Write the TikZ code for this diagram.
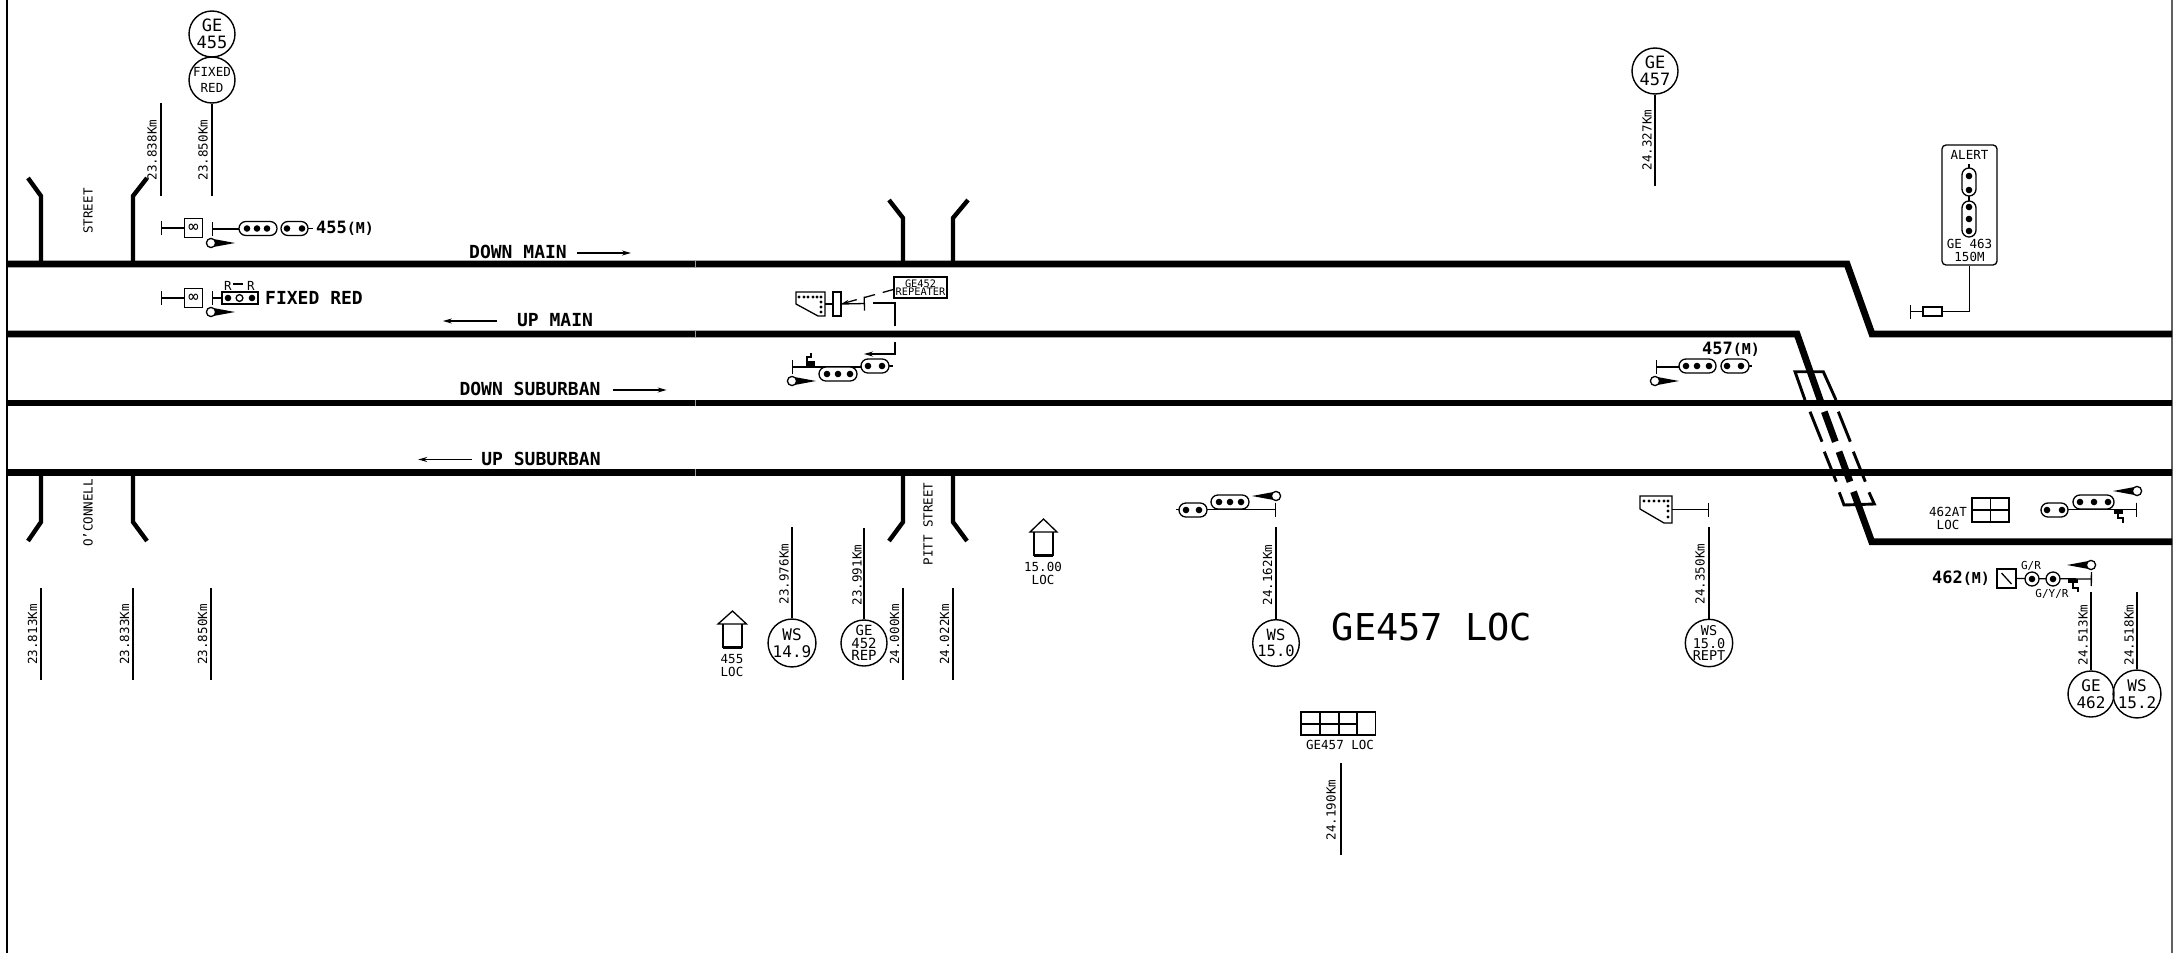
\documentclass[tikz,border=0pt]{standalone}
\usepackage{fontspec}
\setmainfont{DejaVu Sans Mono}
\usetikzlibrary{arrows.meta}
\newcommand{\cad}[1]{\fontsize{#1}{13}\selectfont}
\newcommand{\cads}[2]{\fontsize{#1}{#2}\selectfont}
\newcommand{\mlabel}[1]{{\bfseries\cad{17}#1\cad{15}(M)}}
% signal head: centre x, centre y, direction of the pointer
\newcommand{\sighead}[3]{
	\fill (#1+3.5*#3,#2-3.8) -- (#1+24*#3,#2) -- (#1+3.5*#3,#2+3.8) -- cycle;
	\draw[ln,fill=white] (#1,#2) circle (4.6);
}
% capsule of lamps: left, right, centre y, list of lamp positions
\newcommand{\lamps}[4]{
	\draw[ln,fill=white,rounded corners=6.9] (#1,#3-7) rectangle (#2,#3+7);
	\foreach \x in {#4} \fill (\x,#3) circle (3.3);
}
\tikzset{
	trk/.style={line width=6.8},
	road/.style={line width=4.4},
	xov/.style={line width=2.9},
	ln/.style={line width=1.3},
	kmline/.style={line width=1.6},
	km/.style={rotate=90,inner sep=0,font=\cad{12.5}},
	lbl/.style={inner sep=0,font=\cad{12.5},align=center},
	trklbl/.style={inner sep=0,font=\bfseries\cad{18}},
	place/.style={draw,circle,line width=1.4,minimum size=46,inner sep=0,align=center},
	arr/.style={ln,-{Stealth[length=9,width=5]}},
	tickst/.style={ln,{Bar[width=14]}-},
}
\begin{document}
\begin{tikzpicture}[x=1pt,y=-1pt]
	\useasboundingbox (0,0) rectangle (2179,953);
	\fill[white] (0,0) rectangle (2179,953);
	\draw[line width=2.6] (7,0) -- (7,953);
	\draw[line width=2,black!62] (2172,0) -- (2172,953);

	% tracks
	\draw[trk] (7,264) -- (1847,264) -- (1872,334) -- (2172,334);
	\draw[trk] (7,334) -- (1797,334) -- (1821.3,403.3);
	\draw[trk] (7,403) -- (2172,403);
	\draw[trk] (7,472.5) -- (2172,472.5);
	\draw[trk] (1853.5,491.7) -- (1871.7,541.7) -- (2172,541.7);
	\foreach \y in {264,334,403,472.5}
		\draw[line width=0.6,black!40] (695,\y-3.4) -- (695,\y+3.4);

	% crossover
	\foreach \a/\b in {1824.3/411.7,1839/451.7}
		\draw[trk] (\a,\b) -- ++(11,30);
	\foreach \a/\b in {1810/411.7,1838.3/411.7,1824.3/451.7,1853.3/451.7}
		\draw[xov] (\a,\b) -- ++(12,30);
	\draw[xov] (1805,400) -- (1795,371.7) -- (1823.3,371.7) -- (1836,400);
	\draw[xov] (1839.3,492.3) -- (1844,505) -- (1874.3,504) -- (1869,492.3);

	% roads
	\draw[road] (41,264) -- (41,196) -- (28,178);
	\draw[road] (133,264) -- (133,196) -- (147,178);
	\draw[road] (41,472) -- (41,522) -- (28,541);
	\draw[road] (133,472) -- (133,522) -- (147,541);
	\draw[road] (903,264) -- (903,218) -- (889,200);
	\draw[road] (953,264) -- (953,218) -- (968,200);
	\draw[road] (903,472) -- (903,522) -- (889,541);
	\draw[road] (953,472) -- (953,522) -- (967,541);
	\node[km] (street) at (88,211) {STREET};
	\node[km] (oconnell) at (88,513) {O'CONNELL};
	\node[km] (pitt) at (928,524) {PITT STREET};

	% track names
	\node[trklbl] (dm) at (518,252) {DOWN MAIN};
	\node[trklbl] (um) at (555,320) {UP MAIN};
	\node[trklbl] (ds) at (530,389) {DOWN SUBURBAN};
	\node[trklbl] (us) at (541,458.5) {UP SUBURBAN};
	\draw[arr] (dm.east) ++(10,1) -- ++(54,0);
	\draw[arr] (um.west) ++(-20,1) -- ++(-54,0);
	\draw[arr] (ds.east) ++(12,1) -- ++(54,0);
	\draw[arr] (us.west) ++(-9,1) -- ++(-54,0);

	% places
	\node[place,font=\cads{17}{16.5}] (ge455) at (212,34) {GE\\455};
	\node[place,font=\cads{12.5}{16.5}] (fixed) at (212,80) {FIXED\\RED};
	\node[place,font=\cads{17}{16.5}] (ge457) at (1655,71) {GE\\457};
	\node[place,font=\cads{16}{16.5}] (ws149) at (792,643) {WS\\14.9};
	\node[place,font=\cads{14}{12.3}] (rep452) at (864,643) {GE\\452\\REP};
	\node[place,font=\cads{15.5}{16.5}] (ws150) at (1276,643) {WS\\15.0};
	\node[place,font=\cads{13.5}{12.3}] (rept) at (1709,643) {WS\\15.0\\REPT};
	\node[place,font=\cads{16}{16.5}] (ge462) at (2091,694) {GE\\462};
	\node[place,font=\cads{16}{16.5}] (ws152) at (2137,694) {WS\\15.2};

	% chainages
	\draw[line width=2.4] (161,103) -- (161,196);
	\node[km] at (152,150) {23.838Km};
	\draw[kmline] (fixed.south) -- (212,196);
	\node[km] at (203,150) {23.850Km};
	\draw[kmline] (ge457.south) -- (1655,186);
	\node[km] at (1647,140) {24.327Km};
	\foreach \x/\t in {41/23.813,133/23.833,211/23.850,903/24.000,953/24.022}{
		\draw[kmline] (\x,588) -- (\x,680);
		\node[km] at (\x-8.5,634.5) {\t Km};
	}
	\draw[kmline] (ws149.north) -- (792,527);
	\node[km] at (784,574) {23.976Km};
	\draw[kmline] (rep452.north) -- (864,528);
	\node[km] at (857,575) {23.991Km};
	\draw[kmline] (ws150.north) -- (1276,527);
	\node[km] at (1267.5,575) {24.162Km};
	\draw[kmline] (rept.north) -- (1709,527);
	\node[km] at (1700,574) {24.350Km};
	\draw[kmline] (1341,763) -- (1341,855);
	\node[km] at (1331,810) {24.190Km};
	\draw[kmline] (ge462.north) -- (2091,592);
	\node[km] at (2083,635) {24.513Km};
	\draw[kmline] (ws152.north) -- (2137,592);
	\node[km] at (2129,635) {24.518Km};

	% signal 455
	\node[draw,ln,minimum size=18.5,inner sep=0,font=\cad{17}] (sq455) at (193.5,228) {∞};
	\draw[tickst] (161,228) -- (sq455.west);
	\draw[tickst] (212,229) -- (239,229);
	\lamps{239}{277}{228.5}{247,257,267}
	\lamps{281}{308}{228.5}{287,302}
	\draw[ln] (308,228.5) -- (313,228.5);
	\sighead{211}{243}{1}
	\node[anchor=west,inner sep=0] (l455) at (316,228) {\mlabel{455}};

	% fixed red
	\node[draw,ln,minimum size=18.5,inner sep=0,font=\cad{17}] (sqfr) at (193.5,298) {∞};
	\draw[tickst] (161,298) -- (sqfr.west);
	\draw[tickst] (212,298) -- (222,298);
	\draw[line width=1.6] (222,292) rectangle (258,304);
	\fill (228,298) circle (3.3) (252,298) circle (3.3);
	\draw[ln] (239.5,298) circle (3.4);
	\node[lbl] (rl) at (228,285.5) {R};
	\node[lbl] (rr) at (251,285.5) {R};
	\draw[ln] (rl.east) ++(1,-1.5) -- ++(10,0);
	\sighead{211}{312}{1}
	\node[inner sep=0,font=\bfseries\cad{18}] (fr) at (314,298) {FIXED RED};

	% repeater at Pitt Street
	\draw[ln] (796,292) -- (825,292) -- (825,316) -- (818,316) -- (796,304) -- cycle;
	\foreach \x in {799,804,808,813,817,821} \fill (\x,297) circle (1.7);
	\foreach \y in {302,307,312} \fill (821,\y) circle (1.7);
	\node[draw,ln,minimum width=8,minimum height=24,inner sep=0] (rrect) at (837,304) {};
	\draw[ln] (825,304) -- (rrect.west);
	\draw[tickst] (865,303.5) -- (rrect.east);
	\node[draw,ln,minimum width=53,minimum height=21,inner sep=0,align=center,font=\cads{10.3}{8.5}] (rptbox) at (920.5,287.5) {GE452\\REPEATER};
	\draw[ln,dash pattern=on 11 off 8,-{Stealth[length=8,width=4]}] (rptbox.west) ++(0,2) -- (841,304);
	\draw[ln] (873,303) -- (895,303) -- (895,326);
	\draw[arr] (895,342) -- (895,354) -- (864,354);

	% signal up suburban side
	\draw[tickst] (792,367) -- (866,367);
	\fill (806,361) rectangle (815,367);
	\draw[ln] (807,361) -- (807,357) -- (811,357) -- (811,353);
	\lamps{819}{857}{374}{827,838,850}
	\lamps{861}{889}{366}{868,882}
	\draw[ln] (889,366) -- (893,366);
	\sighead{792}{381}{1}

	% houses
	\draw[ln] (723,624) -- (723,647) -- (742,647) -- (742,624);
	\draw[ln] (718,624) -- (732.5,611) -- (746.5,624) -- cycle;
	\draw[line width=2.8] (723,647.5) -- (742,647.5);
	\node[lbl] at (732,665.5) {455\\LOC};
	\draw[ln] (1034,532) -- (1034,555) -- (1053,555) -- (1053,532);
	\draw[ln] (1030,532) -- (1043.5,519) -- (1057,532) -- cycle;
	\draw[line width=2.8] (1034,555.5) -- (1053,555.5);
	\node[lbl] at (1043,573.5) {15.00\\LOC};

	% signal 457 lower
	\draw[ln] (1176,509.5) -- (1179,509.5);
	\draw[tickst] (1276,509.5) -- (1207,509.5);
	\lamps{1179}{1207}{510}{1186,1199}
	\lamps{1211}{1249}{502}{1219,1230,1241}
	\sighead{1276}{496}{-1}

	% big title and location case
	\node[inner sep=0,font=\cad{37}] (title) at (1432,627) {GE457 LOC};
	\draw[ln] (1301,712) rectangle (1375.5,735);
	\foreach \x in {1320,1339,1357} \draw[ln] (\x,712) -- (\x,735);
	\draw[ln] (1301,724) -- (1357,724);
	\node[lbl] (case457) at (1340,745) {GE457 LOC};

	% repeater 457
	\draw[ln] (1640,496) -- (1672,496) -- (1672,523) -- (1664,523) -- (1640,509) -- cycle;
	\foreach \x in {1644,1649,1654,1659,1664,1668} \fill (\x,501) circle (1.7);
	\foreach \y in {506,511,517} \fill (1668,\y) circle (1.7);
	\draw[tickst] (1709,509.5) -- (1672,509.5);

	% signal 457(M)
	\draw[tickst] (1656,367) -- (1679,367);
	\lamps{1679}{1716}{366}{1686,1697,1709}
	\lamps{1721}{1749}{366}{1727,1741}
	\draw[ln] (1749,366) -- (1752,366);
	\sighead{1655}{381}{1}
	\node[inner sep=0] (l457) at (1731,349) {\mlabel{457}};

	% alert board
	\node[draw,ln,rounded corners=4,minimum width=55,minimum height=120,inner sep=0] (alert) at (1969.5,205) {};
	\node[lbl] (alerttxt) at (1969.5,155) {ALERT};
	\draw[ln] (1969,164) -- (1969,201);
	\draw[ln,fill=white,rounded corners=6.9] (1962,168) rectangle (1976,196);
	\foreach \y in {176,190} \fill (1969,\y) circle (3.3);
	\draw[ln,fill=white,rounded corners=6.9] (1962,201) rectangle (1976,237);
	\foreach \y in {207,219,231} \fill (1969,\y) circle (3.3);
	\node[lbl] (alertsig) at (1969.5,250.5) {GE 463\\150M};
	\node[draw,ln,minimum width=19,minimum height=9,inner sep=0] (aloc) at (1932.5,311.5) {};
	\draw[ln] (alert.south) -- (1969.5,311.5) -- (aloc.east);
	\draw[tickst] (1910,311.5) -- (aloc.west);

	% 462AT
	\draw[ln] (1972,498) rectangle (2009,522);
	\draw[ln] (1972,510) -- (2009,510) (1990.5,498) -- (1990.5,522);
	\node[lbl] (l462at) at (1948,518) {462AT\\LOC};
	\draw[tickst] (2137,509.5) -- (2068,509.5);
	\lamps{2041}{2068}{510}{2047,2062}
	\lamps{2073}{2114}{502}{2080,2094,2108}
	\fill (2114,509) rectangle (2123,514);
	\draw[ln] (2118,514) -- (2118,518) -- (2123,518) -- (2123,523);
	\sighead{2137}{491}{-1}

	% signal 462(M)
	\node[inner sep=0] (l462) at (1961,578) {\mlabel{462}};
	\node[draw,ln,minimum size=19,inner sep=0] (sq462) at (2006.5,578.5) {};
	\draw[ln] (2001.5,573) -- (2011.5,584);
	\draw[tickst] (2092,579) -- (sq462.east);
	\foreach \x in {2032,2053}{
		\draw[ln,fill=white] (\x,579) circle (7);
		\fill (\x,579) circle (3.3);
	}
	\fill (2068,579) rectangle (2078,583);
	\draw[ln] (2073,583) -- (2073,588) -- (2078,588) -- (2078,592);
	\sighead{2091}{565}{-1}
	\node[lbl,font=\cad{11}] (gr) at (2031,566) {G/R};
	\node[lbl,font=\cad{11}] (gyr) at (2052,593.5) {G/Y/R};
\end{tikzpicture}
\end{document}
